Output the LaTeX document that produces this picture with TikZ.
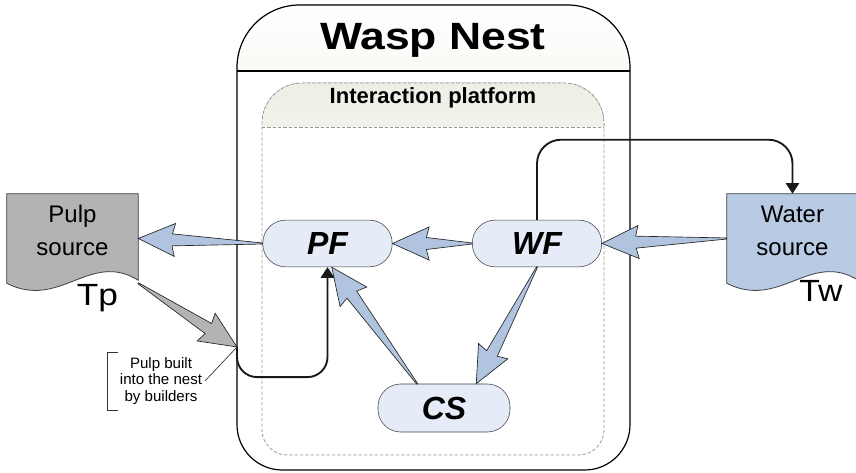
\documentclass[tikz,border=0pt]{standalone}
\usepackage{fontspec}
\setmainfont{Liberation Sans}
\usetikzlibrary{arrows.meta, positioning, calc, backgrounds}
\definecolor{nodefill}{RGB}{229,236,247}
\definecolor{fatblue}{RGB}{176,196,224}
\definecolor{waterblue}{RGB}{184,202,228}
\definecolor{pulpgray}{RGB}{179,179,179}
\definecolor{headbot}{RGB}{238,238,229}

% tapered block arrow from #2 to #3, filled with #1
\newcommand{\fatarrow}[3]{%
  \path[fatline, fill=#1] let \p1=($(#3)-(#2)$), \n1={atan2(\y1,\x1)}, \n2={veclen(\x1,\y1)} in
    {[shift={(#2)}, rotate=\n1]
     (0pt,0.4pt) -- ({(\n2-25.5)*1pt},4.5pt) -- ({(\n2-27.5)*1pt},12.4pt) -- ({\n2*1pt},0pt)
     -- ({(\n2-27.5)*1pt},-12.4pt) -- ({(\n2-25.5)*1pt},-4.5pt) -- (0pt,-0.4pt) -- cycle};
}
\newcommand{\docpath}[1]{(#1.north west) -- (#1.north east) -- ($(#1.south east)+(0,-3)$)
  .. controls ($(#1.south east)+(-48,-33)$) and ($(#1.south west)+(53,27)$) .. (#1.south west) -- cycle}

\begin{document}
\begin{tikzpicture}[x=0.75pt, y=-0.75pt,
  pill/.style={draw=black!75, fill=nodefill, rounded corners=17pt, minimum width=97pt,
    minimum height=35pt, inner sep=0pt, font=\fontsize{24}{28}\selectfont\bfseries\itshape},
  srcdoc/.style={minimum width=98.25pt, minimum height=66.75pt, inner sep=0pt, align=center,
    font=\fontsize{18}{24.75}\selectfont, text depth=11.6pt},
  tag/.style={anchor=base, inner sep=0pt, font=\fontsize{23}{26}\selectfont},
  fatline/.style={draw=black!85, line width=0.5pt, line join=miter},
  flowline/.style={draw=black!90, line width=1.4pt, -{Triangle[length=8pt, width=10pt]}},
  platline/.style={draw=black!40, line width=0.6pt, dash pattern=on 2.5pt off 1.5pt},
  nestline/.style={draw=black, line width=0.9pt}]
  \useasboundingbox (0,0) rectangle (856,473);

  % nest and platform headers
  \begin{scope}
    \clip (237,0) rectangle (630,71);
    \fill[top color=white, bottom color=headbot, rounded corners=47pt] (237,200) -- (237,5) -- (630,5) -- (630,200) -- cycle;
  \end{scope}
  \begin{scope}
    \clip (262,0) rectangle (604,127);
    \fill[top color=headbot, bottom color=white, rounded corners=30pt] (262,250) -- (262,83) -- (604,83) -- (604,250) -- cycle;
  \end{scope}
  \draw[nestline, rounded corners=47pt] (237,240) -- (237,5) -- (630,5) -- (630,240);
  \draw[nestline, rounded corners=34pt] (237,240) -- (237,470) -- (630,470) -- (630,240);
  \draw[nestline] (237,71) -- (630,71);
  \draw[platline, rounded corners=30pt] (262,290) -- (262,83) -- (604,83) -- (604,290);
  \draw[platline, rounded corners=19pt] (262,290) -- (262,455) -- (604,455) -- (604,290);
  \draw[platline] (262,127) -- (604,127);

  \node[anchor=base, font=\fontsize{28.5}{34}\selectfont\bfseries] (nesttitle) at (433,50) {\scalebox{1.17}[1]{Wasp Nest}};
  \node[anchor=base, font=\fontsize{16.5}{20}\selectfont\bfseries] (plattitle) at (433,104) {Interaction platform};

  \node[pill] (PF) at (327.5,243.5) {PF};
  \node[pill] (WF) at (537,243.5) {WF};
  \node[pill, minimum width=99pt, minimum height=36pt] (CS) at (444,408) {CS};

  \node[srcdoc] (pulp) at (72.5,238.5) {Pulp\\source};
  \node[srcdoc] (water) at (792.5,238.5) {Water\\source};
  \begin{pgfonlayer}{background}
    \filldraw[fill=pulpgray, draw=black!75, line width=0.6pt] \docpath{pulp};
    \filldraw[fill=waterblue, draw=black!75, line width=0.6pt] \docpath{water};
  \end{pgfonlayer}
  \node[tag] (tp) at (97.5,306) {\scalebox{1.15}[1]{Tp}};
  \node[tag] (tw) at (821,302) {\scalebox{1.1}[1]{Tw}};

  \coordinate (entry) at (237,347);
  \fatarrow{fatblue}{PF.west}{pulp.east}
  \fatarrow{fatblue}{WF.west}{PF.east}
  \fatarrow{fatblue}{water.west}{WF.east}
  \fatarrow{fatblue}{CS.138}{PF.-80}
  \fatarrow{fatblue}{WF.south}{CS.37}
  \fatarrow{pulpgray}{pulp.south east}{entry}

  \draw[flowline, rounded corners=15pt] (entry) |- ($(PF.south)+(0,110)$) -- (PF.south);
  \draw[flowline, rounded corners=18pt] (WF.north) |- ($(water.north)+(0,-54)$) -- (water.north);

  \node[align=center, inner sep=2pt, font=\fontsize{11.3}{12.4}\selectfont] (note) at (161,381) {Pulp built\\into the nest\\by builders};
  \draw[black!80, line width=0.5pt] (118,352) -- (107,352) -- (107,410) -- (118,410);
  \draw[black!80, line width=0.5pt] (note.east) -- (entry);
\end{tikzpicture}
\end{document}
